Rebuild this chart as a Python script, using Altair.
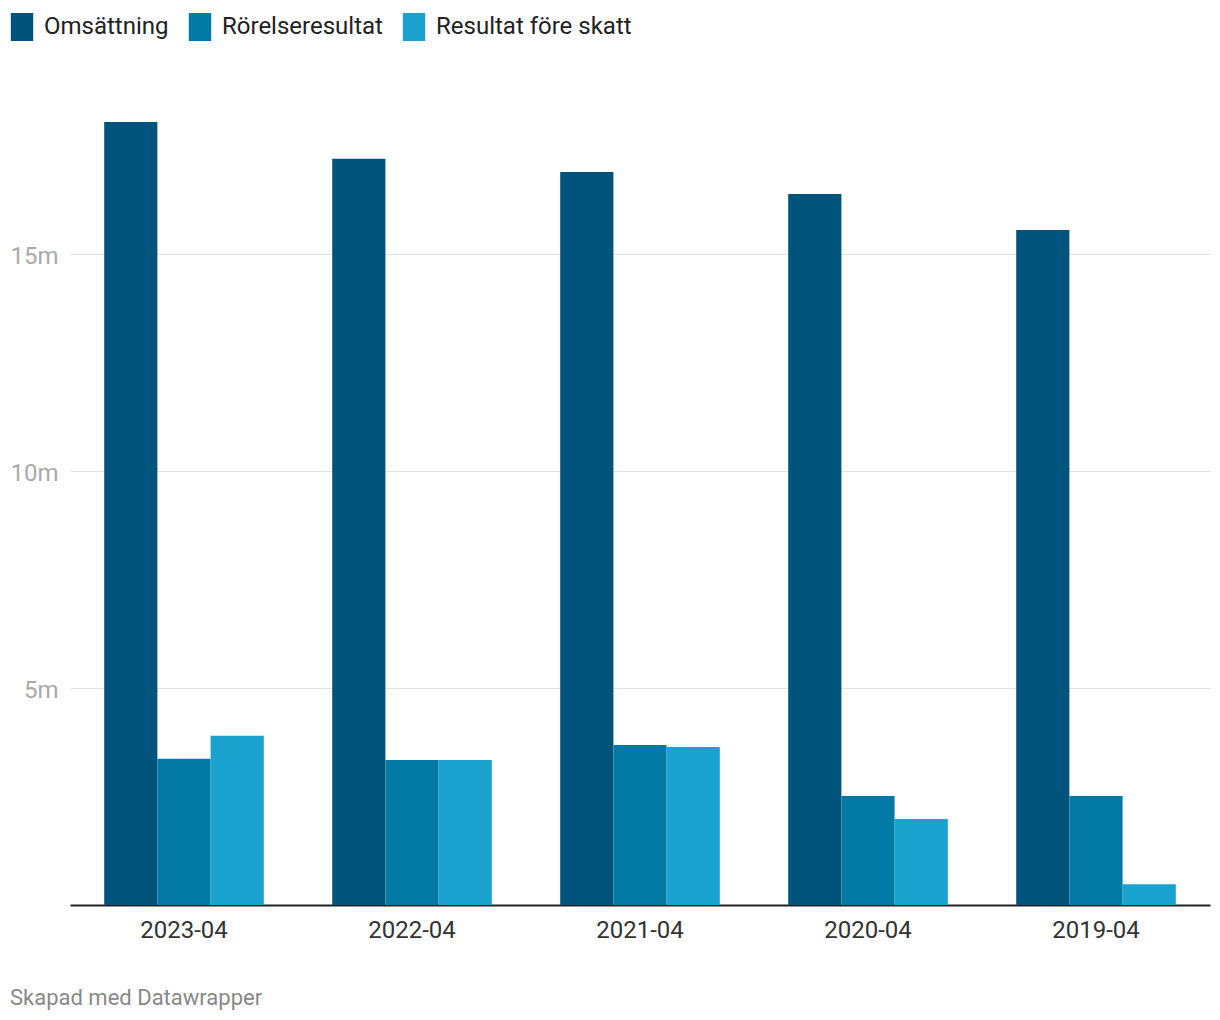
import altair as alt
import pandas as pd

periods = ["2023-04", "2022-04", "2021-04", "2020-04", "2019-04"]
series = ["Omsättning", "Rörelseresultat", "Resultat före skatt"]
omsattning = [18.05, 17.2, 16.9, 16.39, 15.56]
rorelseresultat = [3.37, 3.34, 3.69, 2.51, 2.51]
resultat_fore_skatt = [3.90, 3.34, 3.64, 1.98, 0.48]
colors = ["#00547c", "#0379a5", "#1aa2cf"]
y_ticks = [5, 10, 15]

rows = []
for i, p in enumerate(periods):
    for s, vals in zip(series, [omsattning, rorelseresultat, resultat_fore_skatt]):
        rows.append({"period": p, "serie": s, "value": vals[i]})
df = pd.DataFrame(rows)

FONT = "Roboto"

chart = alt.Chart(df).mark_bar().encode(
    x=alt.X("period:N", sort=periods, title=None,
            scale=alt.Scale(paddingInner=0.3, paddingOuter=0.15),
            axis=alt.Axis(labelAngle=0, labelFontSize=24, labelColor="#333333",
                          labelFont=FONT, ticks=False, labelPadding=13,
                          domainColor="#222222", domainWidth=2, grid=False)),
    xOffset=alt.XOffset("serie:N", sort=series,
                        scale=alt.Scale(paddingInner=0, paddingOuter=0)),
    y=alt.Y("value:Q", title=None,
            scale=alt.Scale(domain=[0, 18.05], nice=False, zero=True),
            axis=alt.Axis(values=y_ticks, labelExpr="datum.value + 'm'",
                          labelFontSize=24, labelColor="#aaaaaa", labelFont=FONT,
                          ticks=False, domain=False, labelPadding=12, labelOffset=2,
                          gridColor="#e3e3e3", gridWidth=1)),
    color=alt.Color("serie:N", sort=series, title=None,
                    scale=alt.Scale(domain=series, range=colors),
                    legend=alt.Legend(orient="none", legendX=-62, legendY=-109,
                                      direction="horizontal",
                                      symbolType="M-0.8,-1H0.8V1H-0.8Z",
                                      symbolSize=784, symbolStrokeWidth=0,
                                      symbolOpacity=1,
                                      labelFontSize=24, labelFont=FONT,
                                      labelColor="#222222", labelOffset=8,
                                      labelLimit=400, columnPadding=17)),
).properties(
    width=1140,
    height=783,
    title=alt.TitleParams("Skapad med Datawrapper", orient="bottom", anchor="start",
                          frame="bounds", fontSize=22, font=FONT, dx=2,
                          fontWeight="normal", color="#888888", offset=46),
    autosize=alt.AutoSizeParams(type="none"),
    padding={"left": 62, "top": 114, "right": 2, "bottom": 110},
).configure_view(stroke=None)

chart.save("out.html", embed_options={"renderer": "svg", "actions": False})
